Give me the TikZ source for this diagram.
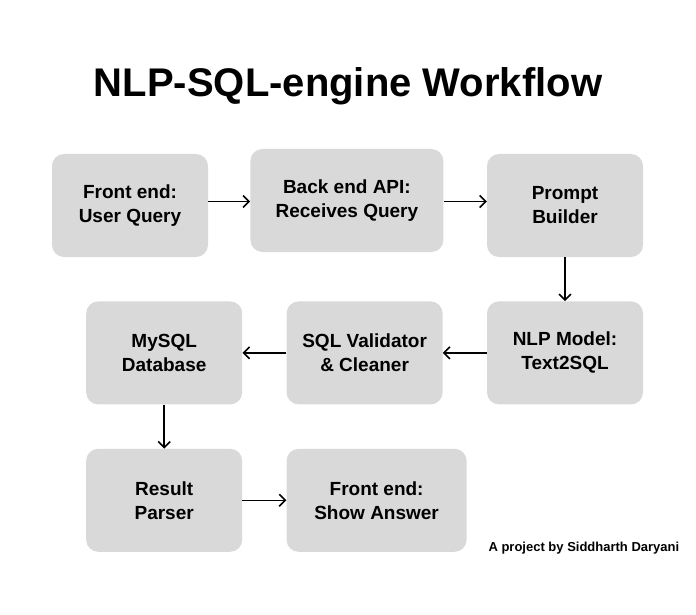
\documentclass[tikz,border=0pt]{standalone}
\usepackage{fontspec}
\setmainfont{Liberation Sans}
\usetikzlibrary{arrows.meta, positioning}

\begin{document}
\begin{tikzpicture}[x=1pt, y=-1pt]
	\tikzset{
		stepnode/.style={rectangle, rounded corners=12pt, fill=black!15, draw=none, minimum width=156pt, minimum height=103pt, align=center, font=\bfseries\fontsize{19}{24}\selectfont},
		flow/.style={-{Straight Barb[length=6pt, width=12pt]}, line width=1.6pt},
	}
	\useasboundingbox (0,0) rectangle (696,615);

	\node[font=\bfseries\fontsize{40}{48}\selectfont] (title) at (348,86) {NLP-SQL-engine Workflow};

	\node[stepnode] (front) at (130,205.5) {Front end:\\User Query};
	\node[stepnode, minimum width=193pt, right = 42pt of front, yshift=5pt] (backend) {Back end API:\\Receives Query};
	\node[stepnode] (prompt) at (565,205.5) {Prompt\\Builder};

	\draw[flow] ([yshift=4pt]front.east) -- ([yshift=4pt]front.east -| backend.west);
	\draw[flow] ([yshift=4pt]backend.east |- front.east) -- ([yshift=4pt]prompt.west);

	\node[stepnode, below = 44pt of prompt] (nlp) {NLP Model:\\Text2SQL};
	\node[stepnode, left = 44pt of nlp] (validator) {SQL Validator\\\& Cleaner};
	\node[stepnode, left = 44pt of validator] (mysql) {MySQL\\Database};

	\draw[flow] (prompt.south) -- (nlp.north);
	\draw[flow] (nlp.west) -- (validator.east);
	\draw[flow] (validator.west) -- (mysql.east);

	\node[stepnode, below = 44pt of mysql] (parser) {Result\\Parser};
	\node[stepnode, minimum width=180pt, right = 44pt of parser] (answer) {Front end:\\Show Answer};

	\draw[flow] (mysql.south) -- (parser.north);
	\draw[flow] (parser.east) -- (answer.west);

	\node[anchor=west, font=\bfseries\fontsize{13}{15}\selectfont] (credit) at (485,548) {A project by Siddharth Daryani};
\end{tikzpicture}
\end{document}
